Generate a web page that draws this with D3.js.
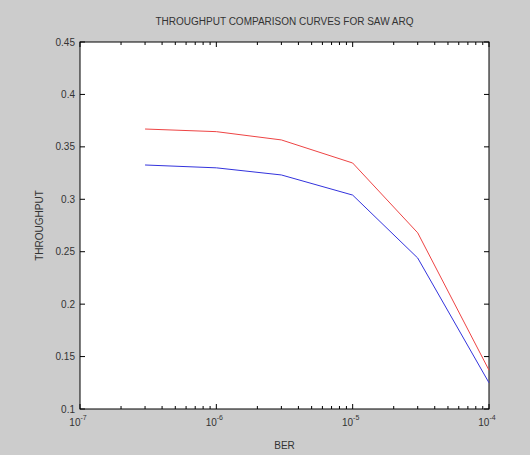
<!DOCTYPE html>
<html>
<head>
<meta charset="utf-8">
<script src="https://cdn.jsdelivr.net/npm/d3@7"></script>
<style>
  body { margin: 0; background: #cccccc; }
  svg { display: block; font-family: "Liberation Sans", Arial, sans-serif; }
</style>
</head>
<body>
<svg id="chart" width="530" height="455"></svg>
<script>
/*Data*/
var ber = [3e-7, 1e-6, 3e-6, 1e-5, 3e-5, 1e-4];
var redThroughput = [0.367, 0.3645, 0.3566, 0.3346, 0.268, 0.137];
var blueThroughput = [0.3327, 0.330, 0.3232, 0.304, 0.244, 0.125];
var xTickExps = [-7, -6, -5, -4];
var yTicks = [0.1, 0.15, 0.2, 0.25, 0.3, 0.35, 0.4, 0.45];

var svg = d3.select('#chart'),
    margin = {top: 42, right: 41, bottom: 46, left: 80},
    width = +svg.attr('width') - margin.left - margin.right,
    height = +svg.attr('height') - margin.top - margin.bottom;

var x = d3.scaleLog().domain([1e-7, 1e-4]).range([0, width]),
    y = d3.scaleLinear().domain([0.1, 0.45]).range([height, 0]);

var g = svg.append('g')
    .attr('transform', 'translate(' + margin.left + ',' + margin.top + ')');

g.append('rect')
    .attr('width', width)
    .attr('height', height)
    .attr('fill', '#ffffff');

/*Ticks, drawn inside on all four sides*/
var minor = [];
for (var e = -7; e < -4; e++) {
  for (var k = 2; k < 10; k++) minor.push(k * Math.pow(10, e));
}
var majorX = xTickExps.map(function(p) { return Math.pow(10, p); });

function xTicks(yPos, dir) {
  g.selectAll(null)
    .data(majorX.concat(minor))
    .enter().append('line')
      .attr('x1', function(d) { return x(d); })
      .attr('x2', function(d) { return x(d); })
      .attr('y1', yPos)
      .attr('y2', function(d) { return yPos + dir * (majorX.indexOf(d) >= 0 ? 5 : 3); })
      .attr('stroke', '#000')
      .attr('stroke-width', 1);
}
xTicks(height, -1);
xTicks(0, 1);

function yTickMarks(xPos, dir) {
  g.selectAll(null)
    .data(yTicks)
    .enter().append('line')
      .attr('x1', xPos)
      .attr('x2', xPos + dir * 5)
      .attr('y1', function(d) { return y(d); })
      .attr('y2', function(d) { return y(d); })
      .attr('stroke', '#000');
}
yTickMarks(0, 1);
yTickMarks(width, -1);

g.append('rect')
    .attr('width', width)
    .attr('height', height)
    .attr('fill', 'none')
    .attr('stroke', '#000')
    .attr('stroke-width', 1);

/*Tick labels*/
g.selectAll('.ylab')
  .data(yTicks)
  .enter().append('text')
    .attr('class', 'ylab')
    .attr('x', -5)
    .attr('y', function(d) { return y(d); })
    .attr('dy', '0.35em')
    .attr('text-anchor', 'end')
    .attr('font-size', 10)
    .attr('fill', '#333')
    .text(function(d) { return d3.format('~g')(d); });

var xl = g.selectAll('.xlab')
  .data(xTickExps)
  .enter().append('text')
    .attr('class', 'xlab')
    .attr('x', function(d) { return x(Math.pow(10, d)) - 2; })
    .attr('y', height + 17)
    .attr('text-anchor', 'middle')
    .attr('font-size', 10)
    .attr('fill', '#333');
xl.append('tspan').text('10');
xl.append('tspan')
    .attr('dy', -6)
    .attr('font-size', 7)
    .text(function(d) { return d; });

/*Curves*/
var line = d3.line()
    .x(function(d) { return x(d[0]); })
    .y(function(d) { return y(d[1]); });

g.append('path')
    .datum(d3.zip(ber, redThroughput))
    .attr('fill', 'none')
    .attr('stroke', '#ee4444')
    .attr('stroke-width', 1)
    .attr('d', line);

g.append('path')
    .datum(d3.zip(ber, blueThroughput))
    .attr('fill', 'none')
    .attr('stroke', '#3333dd')
    .attr('stroke-width', 1)
    .attr('d', line);

/*Titles*/
svg.append('text')
    .attr('x', margin.left + width / 2)
    .attr('y', 25)
    .attr('text-anchor', 'middle')
    .attr('font-size', 10)
    .attr('fill', '#333')
    .text('THROUGHPUT COMPARISON CURVES FOR SAW ARQ');

svg.append('text')
    .attr('x', margin.left + width / 2)
    .attr('y', 449)
    .attr('text-anchor', 'middle')
    .attr('font-size', 10)
    .attr('fill', '#333')
    .text('BER');

svg.append('text')
    .attr('transform', 'translate(43,' + (margin.top + height / 2) + ') rotate(-90)')
    .attr('text-anchor', 'middle')
    .attr('font-size', 10)
    .attr('fill', '#333')
    .text('THROUGHPUT');
</script>
</body>
</html>
